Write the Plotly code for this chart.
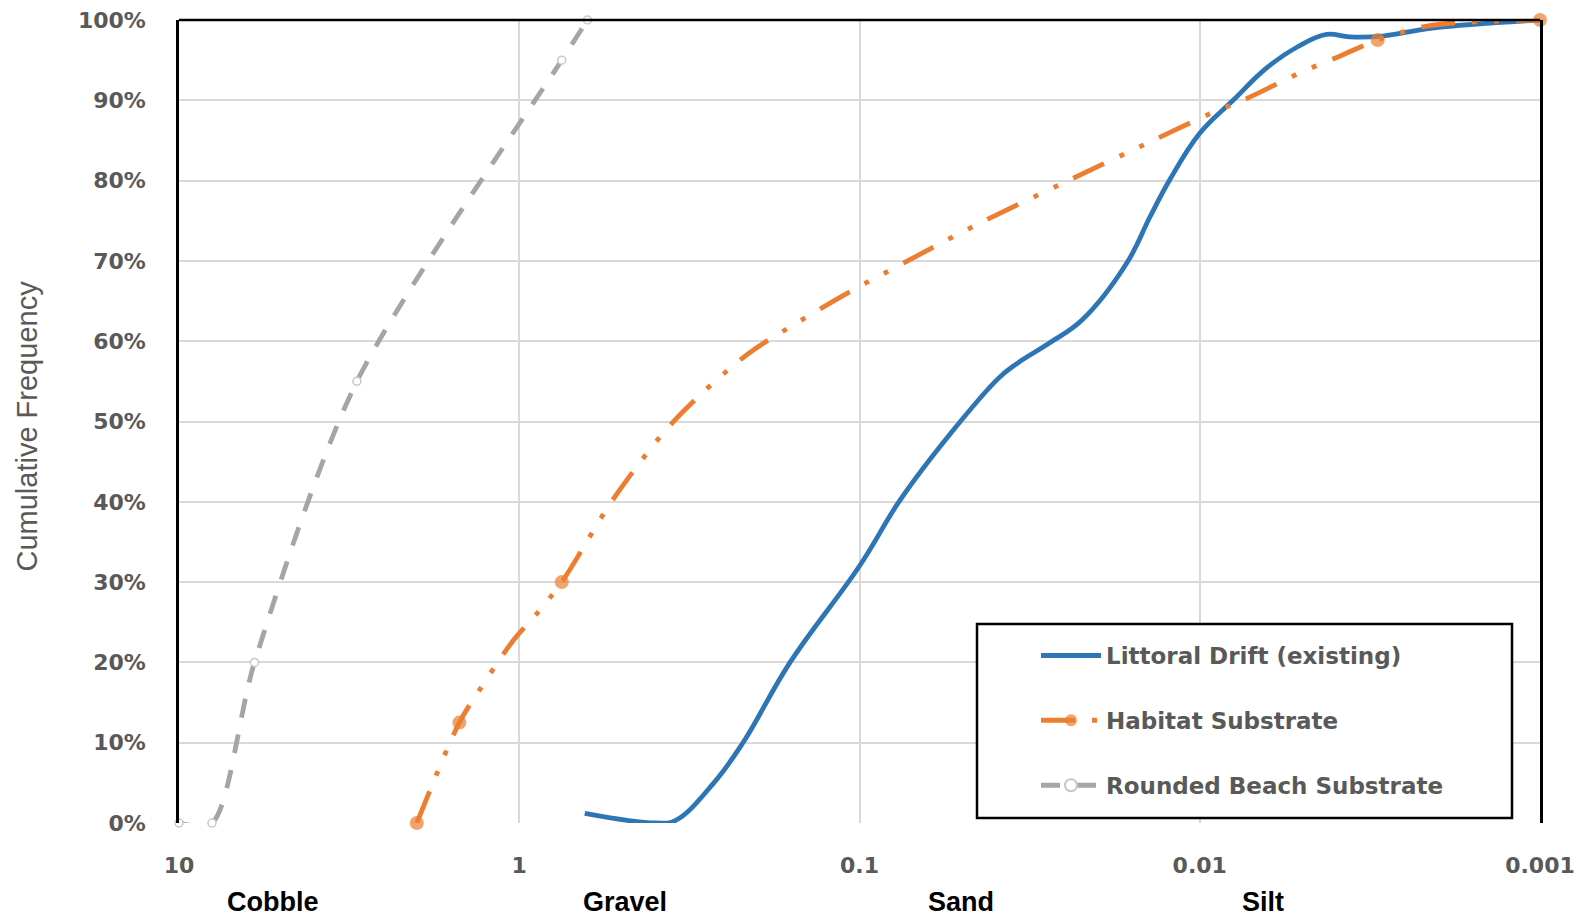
import plotly.graph_objects as go

# ---------------- data (grain size in mm, cumulative frequency in %) ----------------
littoral_size_mm = [0.642, 0.397, 0.348, 0.268, 0.220, 0.160, 0.100, 0.076, 0.054, 0.039,
                    0.0345, 0.0276, 0.0221, 0.0164, 0.0140, 0.01225, 0.010,
                    0.00798, 0.00637, 0.00514, 0.00424, 0.00363, 0.0029, 0.00207, 0.001]
littoral_pct = [1.2, 0.0, 0.3, 5.0, 10.0, 20.0, 32.0, 40.2, 48.5, 55.4,
                57.2, 59.8, 62.7, 69.7, 75.5, 80.1, 85.9,
                90.0, 94.0, 96.7, 98.2, 97.9, 98.0, 99.0, 100.0]

habitat_size_mm = [2.0, 1.5, 1.316, 1.039, 0.887, 0.75, 0.528, 0.352, 0.2145, 0.1512, 0.1043,
                   0.0841, 0.0463, 0.0252, 0.01356, 0.00924, 0.00729, 0.00497, 0.003925,
                   0.003, 0.00211, 0.001]
habitat_pct = [0, 12.5, 16.4, 22.8, 26.1, 30.0, 40.4, 50.0, 58.3, 62.4, 66.4,
               68.5, 74.3, 79.7, 85.1, 88.4, 90.2, 93.6, 95.4,
               97.5, 99.3, 100.0]
habitat_is_sample = [1, 1, 0, 0, 0, 1, 0, 0, 0, 0, 0,
                     0, 0, 0, 0, 0, 0, 0, 0,
                     1, 0, 1]

rounded_size_mm = [10, 8, 6, 3, 0.75, 0.63]
rounded_pct = [0, 0, 20, 55, 95, 100]

x_tick_vals = [10, 1, 0.1, 0.01, 0.001]
x_tick_text = ["10", "1", "0.1", "0.01", "0.001"]
y_tick_vals = [0, 10, 20, 30, 40, 50, 60, 70, 80, 90, 100]
y_tick_text = [f"{v}%" for v in y_tick_vals]

size_classes = ["Cobble", "Gravel", "Sand", "Silt"]
size_class_pos = [0.069, 0.3277, 0.5746, 0.7965]

series_names = ["Littoral Drift (existing)", "Habitat Substrate", "Rounded Beach Substrate"]

# ---------------- styles ----------------
BLUE = "#2E75B6"
ORANGE = "#ED7D31"
GRAY = "#A5A5A5"
TXT = "#595959"
GRID = "#D9D9D9"

fig = go.Figure()

fig.add_trace(go.Scatter(
    x=littoral_size_mm, y=littoral_pct, name=series_names[0], mode="lines",
    line=dict(color=BLUE, width=4.8, shape="spline", smoothing=1.15),
    legendgroup="a", hoverinfo="skip"))

fig.add_trace(go.Scatter(
    x=habitat_size_mm, y=habitat_pct, name=series_names[1], mode="lines+markers",
    line=dict(color=ORANGE, width=4.8, shape="spline", smoothing=0.9,
              dash="34px,17px,5px,17px,5px,17px"),
    marker=dict(color=ORANGE, size=[14 if f else 0 for f in habitat_is_sample],
                line=dict(width=0)),
    cliponaxis=False, legendgroup="b", hoverinfo="skip"))

fig.add_trace(go.Scatter(
    x=rounded_size_mm, y=rounded_pct, name=series_names[2], mode="lines+markers",
    line=dict(color=GRAY, width=4.8, shape="spline", smoothing=0.8, dash="19px,17px"),
    marker=dict(color="white", size=8, line=dict(color="#C8C8C8", width=1.5)),
    cliponaxis=False, legendgroup="c", hoverinfo="skip"))

# page body has an 8px default margin: compensate so the plot lands where intended
OFF = 8
W, H = 1589 - OFF, 922 - OFF
ML, MR, MT, MB = 179 - OFF, 49, 20 - OFF, 99

annotations = []
for name, px in zip(size_classes, size_class_pos):
    annotations.append(dict(
        text=name, xref="paper", yref="paper", x=px, y=-0.0984,
        xanchor="center", yanchor="middle", showarrow=False,
        font=dict(family="Liberation Sans, Arial, sans-serif", size=27,
                  color="black", weight="bold")))
annotations.append(dict(
    text="Cumulative Frequency", xref="paper", yref="paper", x=-0.1117, y=0.495,
    textangle=-90, xanchor="center", yanchor="middle", showarrow=False,
    font=dict(family="Liberation Sans, Arial, sans-serif", size=29, color=TXT)))


# page pixel -> paper fraction of the plot area
def px_x(p):
    return (p - 179) / 1361.0


def px_y(p):
    return (823 - p) / 803.0


shapes = [
    dict(type="rect", xref="paper", yref="paper",
         x0=px_x(977), x1=px_x(1512), y0=px_y(818), y1=px_y(624),
         line=dict(color="black", width=2.5), fillcolor="white", layer="above"),
    dict(type="line", xref="paper", yref="paper", x0=0, x1=1, y0=1, y1=1,
         line=dict(color="black", width=2.5), layer="above"),
]

fig.update_layout(
    width=W, height=H,
    margin=dict(l=ML, r=MR, t=MT, b=MB, autoexpand=False),
    paper_bgcolor="white", plot_bgcolor="white",
    showlegend=True,
    legend=dict(
        x=px_x(1036), y=px_y(634), xanchor="left", yanchor="top",
        bgcolor="rgba(0,0,0,0)", borderwidth=0,
        font=dict(family="DejaVu Sans", size=23, color=TXT, weight="bold"),
        itemwidth=60, itemsizing="constant", tracegroupgap=32,
        traceorder="grouped"),
    annotations=annotations,
    shapes=shapes,
    hovermode=False,
)

fig.update_xaxes(
    type="log", range=[1, -3], automargin=False, ticklabeloverflow="allow",
    tickvals=x_tick_vals, ticktext=x_tick_text,
    showgrid=True, gridcolor=GRID, gridwidth=2,
    showline=False, zeroline=False, ticks="",
    ticklabelstandoff=27,
    tickfont=dict(family="DejaVu Sans", size=22, color=TXT, weight="bold"),
)

fig.update_yaxes(
    range=[0, 100], tickvals=y_tick_vals, ticktext=y_tick_text, automargin=False,
    ticklabeloverflow="allow",
    showgrid=True, gridcolor=GRID, gridwidth=2,
    showline=True, linecolor="black", linewidth=2.5, mirror=True,
    zeroline=False, ticks="",
    ticklabelstandoff=26,
    tickfont=dict(family="DejaVu Sans", size=22, color=TXT, weight="bold"),
)

fig.write_html("out.html", config={"displayModeBar": False})
